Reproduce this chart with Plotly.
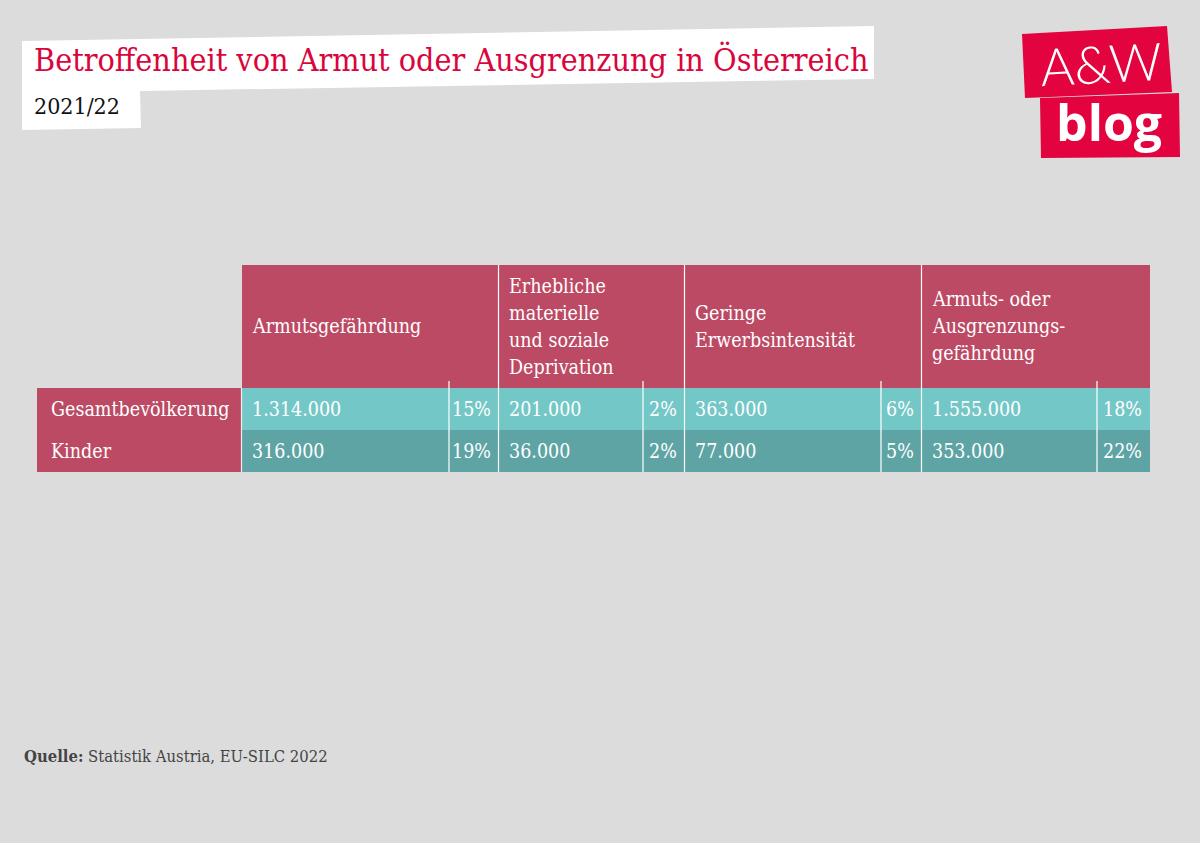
import plotly.graph_objects as go

# ---------------- data ----------------
indicators = [
    "Armutsgefährdung",
    "Erhebliche\nmaterielle\nund soziale\nDeprivation",
    "Geringe\nErwerbsintensität",
    "Armuts- oder\nAusgrenzungs-\ngefährdung",
]
groups = ["Gesamtbevölkerung", "Kinder"]
counts_total = [1314000, 201000, 363000, 1555000]
shares_total = [15, 2, 6, 18]
counts_kids = [316000, 36000, 77000, 353000]
shares_kids = [19, 2, 5, 22]

title = "Betroffenheit von Armut oder Ausgrenzung in Österreich"
subtitle = "2021/22"
source_bold = "Quelle:"
source_text = " Statistik Austria, EU-SILC 2022"

# ---------------- layout geometry (pixels) ----------------
W, H = 1200, 843
label_left = 37
col_edges = [242, 499, 685, 922, 1150]
pct_edges = [449, 643, 881, 1097]
row_edges = [265, 388, 430, 472]
header_line_gap = 27

BG = "#DCDCDC"
HEAD = "#BC4A64"
ROW_COLORS = ["#74C7C7", "#5EA4A4"]
TITLE_RED = "#D9063D"
LOGO_RED = "#E2033F"
TFONT = "DejaVu Serif Condensed"
TSIZE = 19.5

def fmt(n):
    return f"{n:,}".replace(",", ".")

shapes = []
ann = []

def rect(x0, y0, x1, y1, color):
    shapes.append(dict(type="rect", xref="x", yref="y", x0=x0, x1=x1, y0=y0, y1=y1,
                       fillcolor=color, line=dict(width=0), layer="below"))

def vline(x, y0, y1, color="white", w=1.2):
    shapes.append(dict(type="line", xref="x", yref="y", x0=x, x1=x, y0=y0, y1=y1,
                       line=dict(color=color, width=w), layer="above"))

# title banner (white skewed paper)
shapes.append(dict(type="path", xref="x", yref="y",
                   path="M 22 41 L 874 26 L 874 79 L 140 91 L 141 128 L 22 130 Z",
                   fillcolor="white", line=dict(width=0), layer="below"))
ann.append(dict(x=32, y=60, text=title, xanchor="left", yanchor="middle", showarrow=False,
                font=dict(family="DejaVu Serif Condensed", size=32, color=TITLE_RED)))
ann.append(dict(x=32, y=106, text=subtitle, xanchor="left", yanchor="middle", showarrow=False,
                font=dict(family="DejaVu Serif Condensed", size=23, color="#111111")))

# logo
shapes.append(dict(type="path", xref="x", yref="y",
                   path="M 1022 34 L 1167 26 L 1172 92 L 1025 98 Z",
                   fillcolor=LOGO_RED, line=dict(width=0), layer="below"))
shapes.append(dict(type="path", xref="x", yref="y",
                   path="M 1040 98 L 1179 93 L 1180 157 L 1041 158 Z",
                   fillcolor=LOGO_RED, line=dict(width=0), layer="below"))
ann.append(dict(x=1101, y=63, text="A&amp;W", xanchor="center", yanchor="middle", showarrow=False,
                font=dict(family="Lato Light, Lato", size=52, color="white"), textangle=-3))
ann.append(dict(x=1109, y=122, text="<b>blog</b>", xanchor="center", yanchor="middle", showarrow=False,
                font=dict(family="Open Sans", size=50, color="white")))

# header cells
rect(col_edges[0], row_edges[0], col_edges[-1], row_edges[1], HEAD)
head_mid = (row_edges[0] + row_edges[1]) / 2
for i, name in enumerate(indicators):
    lines = name.split("\n")
    n = len(lines)
    for j, ln in enumerate(lines):
        y = head_mid + (j - (n - 1) / 2) * header_line_gap
        ann.append(dict(x=col_edges[i] + 8, y=y, text=ln, xanchor="left", yanchor="middle",
                        showarrow=False, font=dict(family=TFONT, size=TSIZE, color="white")))

# body rows
rows = [(groups[0], counts_total, shares_total), (groups[1], counts_kids, shares_kids)]
for r, (lab, cnts, shs) in enumerate(rows):
    y0, y1 = row_edges[r + 1], row_edges[r + 2]
    ym = (y0 + y1) / 2
    rect(label_left, y0, col_edges[0] - 1, y1, HEAD)
    rect(col_edges[0], y0, col_edges[-1], y1, ROW_COLORS[r])
    ann.append(dict(x=label_left + 12, y=ym, text=lab, xanchor="left", yanchor="middle",
                    showarrow=False, font=dict(family=TFONT, size=TSIZE, color="white")))
    for i in range(len(cnts)):
        ann.append(dict(x=col_edges[i] + 8, y=ym, text=fmt(cnts[i]), xanchor="left",
                        yanchor="middle", showarrow=False,
                        font=dict(family=TFONT, size=TSIZE, color="white")))
        ann.append(dict(x=col_edges[i + 1] - 6, y=ym, text=f"{shs[i]}%", xanchor="right",
                        yanchor="middle", showarrow=False,
                        font=dict(family=TFONT, size=TSIZE, color="white")))

# grid lines
for x in col_edges[1:-1]:
    vline(x - 0.5, row_edges[0], row_edges[-1])
vline(col_edges[0] - 0.5, row_edges[1], row_edges[-1], color="#EDEDED")
for x in pct_edges:
    vline(x, row_edges[1] - 7, row_edges[-1])

# source
ann.append(dict(x=22, y=756, text=f"<b>{source_bold}</b>{source_text}", xanchor="left",
                yanchor="middle", showarrow=False,
                font=dict(family="DejaVu Serif Condensed", size=16.5, color="#444444")))

fig = go.Figure()
fig.update_layout(
    width=W, height=H, margin=dict(l=0, r=0, t=0, b=0),
    paper_bgcolor=BG, plot_bgcolor=BG,
    xaxis=dict(range=[0, W], visible=False, fixedrange=True),
    yaxis=dict(range=[H, 0], visible=False, fixedrange=True),
    shapes=shapes, annotations=ann, showlegend=False,
)
fig.write_html("out.html", config={"displayModeBar": False},
               post_script="document.body.style.margin='0';document.body.style.overflow='hidden';"
                           "document.body.style.background='" + BG + "';")
